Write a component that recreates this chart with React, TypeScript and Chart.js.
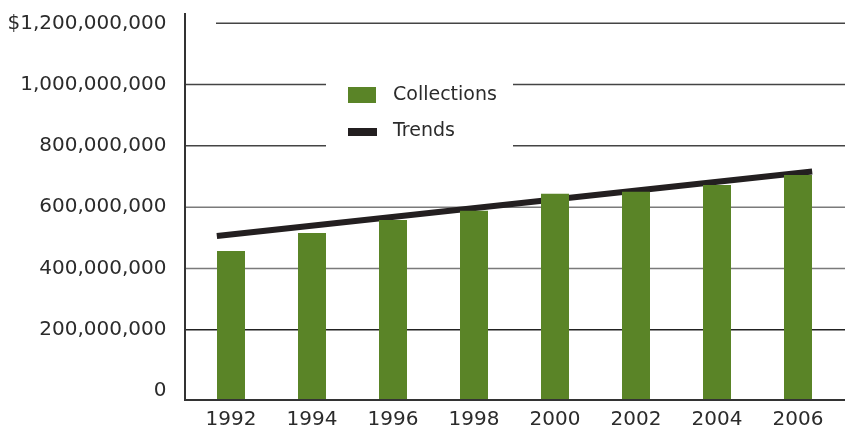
import React, { useEffect, useRef } from "react";
import { Chart, registerables } from "chart.js";

Chart.register(...registerables);

const years = ["1992", "1994", "1996", "1998", "2000", "2002", "2004", "2006"];
const collections = [457e6, 516e6, 558e6, 588e6, 644e6, 650e6, 672e6, 705e6];
const trendYears = [1991.65, 2006.35];
const trendValues = [506e6, 716e6];
const yTickValues = [0, 200e6, 400e6, 600e6, 800e6, 1000e6, 1200e6];
const legendLabels = ["Collections", "Trends"];

const GREEN = "#5a8427";
const DARK = "#231f20";
const TEXT = "#2b2b2b";
const FONT = "'DejaVu Sans', sans-serif";

const decorPlugin = {
  id: "decor",
  beforeDatasetsDraw(chart: any) {
    const { ctx } = chart;
    const y = chart.scales.y;
    const left = 185;
    const right = 845;
    ctx.save();
    yTickValues.forEach((v) => {
      if (v === 0) return;
      const py = y.getPixelForValue(v);
      ctx.beginPath();
      ctx.strokeStyle = v === 200e6 ? "#222" : v >= 800e6 ? "#444" : "#7a7a7a";
      ctx.lineWidth = 1.5;
      ctx.moveTo(v === 1200e6 ? 216 : left, py);
      ctx.lineTo(right, py);
      ctx.stroke();
    });
    // legend background
    ctx.fillStyle = "#ffffff";
    ctx.fillRect(326, 60, 187, 100);
    ctx.restore();
  },
  afterDatasetsDraw(chart: any) {
    const { ctx } = chart;
    const y = chart.scales.y;
    const bottom = y.getPixelForValue(y.min);
    ctx.save();
    ctx.strokeStyle = "#333";
    ctx.lineWidth = 2;
    ctx.beginPath();
    ctx.moveTo(185, 13);
    ctx.lineTo(185, bottom);
    ctx.lineTo(845, bottom);
    ctx.stroke();
    // legend
    ctx.fillStyle = GREEN;
    ctx.fillRect(348, 87, 28, 16);
    ctx.fillStyle = DARK;
    ctx.fillRect(348, 128, 29, 8);
    ctx.fillStyle = TEXT;
    ctx.font = `19px ${FONT}`;
    ctx.textAlign = "left";
    ctx.textBaseline = "middle";
    ctx.fillText(legendLabels[0], 393, 95);
    ctx.fillText(legendLabels[1], 393, 131.5);
    ctx.restore();
  },
};

export default function App() {
  const ref = useRef<HTMLCanvasElement>(null);
  useEffect(() => {
    if (!ref.current) return;
    const chart = new Chart(ref.current, {
      type: "bar",
      data: {
        labels: years,
        datasets: [
          {
            type: "bar",
            label: legendLabels[0],
            data: collections,
            backgroundColor: GREEN,
            borderWidth: 0,
            grouped: false,
            categoryPercentage: 1,
            barPercentage: 28 / 81,
            base: -29.37e6,
            order: 0,
          } as any,
          {
            type: "line",
            label: legendLabels[1],
            data: trendYears.map((x, i) => ({ x, y: trendValues[i] })),
            xAxisID: "x2",
            borderColor: DARK,
            borderWidth: 6,
            pointRadius: 0,
            borderCapStyle: "butt",
            fill: false,
            order: 1,
          } as any,
        ],
      },
      options: {
        responsive: false,
        animation: false,
        layout: { padding: { top: 23.3, right: 26.5, bottom: 0, left: 0 } },
        plugins: { legend: { display: false }, tooltip: { enabled: false } },
        scales: {
          x: {
            type: "category",
            offset: true,
            grid: { display: false, tickLength: 8 },
            border: { display: false },
            ticks: {
              color: TEXT,
              font: { family: FONT, size: 20 },
              padding: 0,
              maxRotation: 0,
            },
            afterFit(scale: any) {
              scale.height = 30;
            },
          },
          x2: {
            type: "linear",
            display: false,
            offset: false,
            grid: { offset: false },
            min: 1991,
            max: 2007,
          },
          y: {
            type: "linear",
            min: -29.37e6,
            max: 1200e6,
            grid: { display: false, tickLength: 24 },
            border: { display: false },
            afterBuildTicks(scale: any) {
              scale.ticks = yTickValues.map((value) => ({ value }));
            },
            ticks: {
              color: TEXT,
              font: { family: FONT, size: 20 },
              padding: 0,
              callback: (v: any) => {
                const s = Number(v).toLocaleString("en-US");
                return Number(v) === 1200e6 ? "$" + s : s;
              },
            },
            afterFit(scale: any) {
              scale.width = 190.5;
            },
          },
        },
      } as any,
      plugins: [decorPlugin],
    });
    return () => chart.destroy();
  }, []);
  return (
    <div style={{ position: "fixed", left: 0, top: 0, width: 865, height: 430, background: "#fff" }}>
      <canvas ref={ref} width={865} height={430} style={{ width: 865, height: 430, display: "block" }} />
    </div>
  );
}
